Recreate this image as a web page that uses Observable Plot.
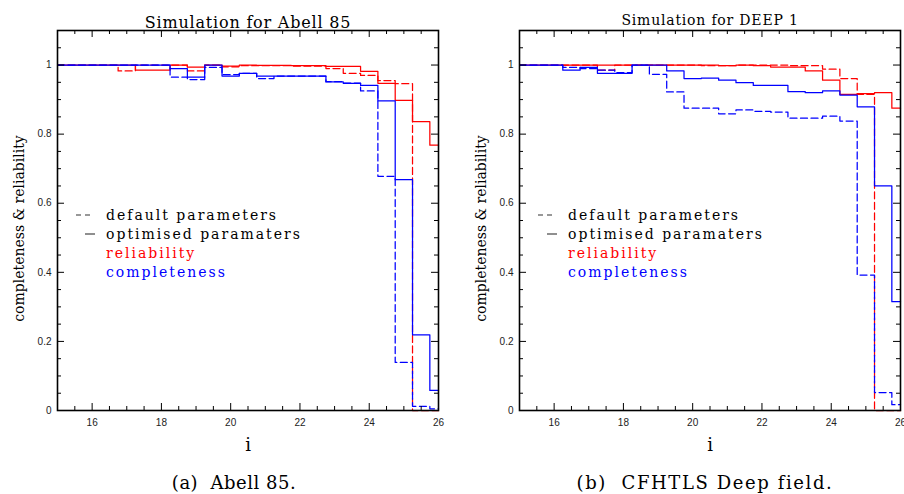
<!DOCTYPE html>
<html><head><meta charset="utf-8">
<script src="https://cdn.jsdelivr.net/npm/d3@7"></script>
<script src="https://cdn.jsdelivr.net/npm/@observablehq/plot@0.6"></script>
<style>
body{margin:0;background:#fff;width:904px;height:494px;overflow:hidden;position:relative;}
.panel{position:absolute;top:0;width:452px;height:462px;}
.legend{position:absolute;font-family:"DejaVu Serif";font-size:14px;letter-spacing:2px;}
.legend .row{height:19px;display:flex;align-items:center;white-space:nowrap;}
.legend svg{width:32px;height:19px;flex:none;}
.caption{position:absolute;top:472px;font-family:"DejaVu Serif";font-size:18px;white-space:nowrap;transform:translateX(-50%);}
</style></head><body>
<div id="p1" class="panel" style="left:0"></div>
<div id="p2" class="panel" style="left:452px"></div>
<div class="caption" style="left:234px;letter-spacing:0.5px">(a)&nbsp; Abell 85.</div>
<div class="caption" style="left:705px;letter-spacing:1.6px">(b)&nbsp; CFHTLS Deep field.</div>
<script>
// magnitude bin centres (bins 0.5 wide)
const bins = [15,15.5,16,16.5,17,17.5,18,18.5,19,19.5,20,20.5,21,21.5,22,22.5,23,23.5,24,24.5,25,25.5,26];
const xTickLabels = [16,18,20,22,24,26];
const yTickLabels = [0,0.2,0.4,0.6,0.8,1];

// Abell 85
const abellRelDef = [1,1,1,1,0.983,1,1,1,0.983,1,0.995,0.998,0.998,0.998,0.997,0.997,0.99,0.976,0.97,0.955,0.946,0,0];
const abellRelOpt = [1,1,1,1,1,0.985,0.985,1,0.994,1,0.997,1,0.999,0.999,0.998,0.998,0.996,0.996,0.982,0.947,0.898,0.836,0.768];
const abellComDef = [1,1,1,1,1,1,1,0.965,0.958,0.993,0.972,0.976,0.961,0.968,0.968,0.968,0.952,0.948,0.925,0.678,0.139,0.012,0.005];
const abellComOpt = [1,1,1,1,1,1,1,0.99,0.965,1,0.968,0.976,0.968,0.968,0.968,0.968,0.951,0.947,0.941,0.896,0.668,0.219,0.058];

// DEEP 1
const deepRelDef = [1,1,1,1,1,0.985,1,1,1,1,1,0.998,0.998,1,1,1,0.998,0.998,0.988,0.961,0.915,0,0];
const deepRelOpt = [1,1,1,1,1,1,1,1,1,1,1,1,0.998,1,0.998,0.994,0.994,0.983,0.956,0.915,0.917,0.92,0.875];
const deepComDef = [1,1,1,0.993,0.99,0.985,0.978,1,0.973,0.922,0.875,0.875,0.859,0.87,0.866,0.864,0.846,0.846,0.852,0.838,0.392,0.052,0.017];
const deepComOpt = [1,1,1,0.985,0.993,0.976,0.976,1,1,0.983,0.961,0.962,0.956,0.949,0.941,0.941,0.923,0.92,0.925,0.913,0.879,0.65,0.315];

const legendItems = [
  {label: "default parameters", color: "#000", sample: "dash"},
  {label: "optimised paramaters", color: "#000", sample: "solid"},
  {label: "reliability", color: "#ff0000", sample: null},
  {label: "completeness", color: "#0000ff", sample: null}
];

const RED = "#ff0000", BLUE = "#0000ff", DASH = "7,3.5";
const FW = 381, FH = 380; // frame size in px

function makePanel(el, cfg) {
  const marks = [];
  const series = [
    {vals: cfg.relDef, stroke: RED, dash: DASH},
    {vals: cfg.relOpt, stroke: RED, dash: null},
    {vals: cfg.comDef, stroke: BLUE, dash: DASH},
    {vals: cfg.comOpt, stroke: BLUE, dash: null}
  ];
  for (const s of series) {
    const rows = bins.map((b, i) => ({m: b, v: s.vals[i]}));
    const o = {x: "m", y: "v", curve: "step", stroke: s.stroke, strokeWidth: 1.25};
    if (s.dash) o.strokeDasharray = s.dash;
    marks.push(Plot.line(rows, o));
  }
  const minorX = d3.range(15, 26.001, 0.5).filter(v => !xTickLabels.includes(v));
  const minorY = d3.range(0, 23, 1).map(k => +(k * 0.05).toFixed(2)).filter(v => v <= 1.1 && !yTickLabels.includes(v));
  const tx = (data, len, side) => Plot.ruleX(data, {x: d => d, stroke: "#000", strokeWidth: 1, [side]: FH - len});
  const ty = (data, len, side) => Plot.ruleY(data, {y: d => d, stroke: "#000", strokeWidth: 1, [side]: FW - len});
  marks.push(
    Plot.frame({stroke: "#000", strokeWidth: 1.6}),
    tx(xTickLabels, 7, "insetTop"), tx(minorX, 4, "insetTop"),
    tx(xTickLabels, 7, "insetBottom"), tx(minorX, 4, "insetBottom"),
    ty(yTickLabels, 7, "insetRight"), ty(minorY, 4, "insetRight"),
    ty(yTickLabels, 7, "insetLeft"), ty(minorY, 4, "insetLeft"),
    Plot.axisX(xTickLabels, {tickSize: 0, tickPadding: 8, fontSize: 10, fontFamily: "Liberation Sans", fill: "#222", tickFormat: d => String(d), label: null}),
    Plot.axisY(yTickLabels, {tickSize: 0, tickPadding: 6, fontSize: 10, fontFamily: "Liberation Sans", fill: "#222", tickFormat: d => String(d), label: null}),
    Plot.text([cfg.title], {text: d => d, frameAnchor: "top", lineAnchor: "bottom", dy: cfg.titleDy, fontSize: cfg.titleSize, fontFamily: "DejaVu Serif", fill: "#000"}),
    Plot.text(["completeness & reliability"], {text: d => d, frameAnchor: "left", textAnchor: "middle", rotate: -90, dx: -37.5, dy: 8, fontSize: 14, fontFamily: "DejaVu Serif", fill: "#000"}),
    Plot.text(["i"], {text: d => d, frameAnchor: "bottom", dy: 40, fontSize: 18, fontFamily: "DejaVu Serif", fill: "#000"})
  );
  const svg = Plot.plot({
    width: 452, height: 462,
    marginTop: 30, marginBottom: 52, marginLeft: cfg.mL, marginRight: cfg.mR,
    x: {domain: [15, 26], label: null},
    y: {domain: [0, 1.1], label: null},
    style: {background: "transparent", overflow: "visible"},
    marks
  });
  svg.querySelectorAll("text").forEach(t => {
    if (t.textContent === cfg.title) t.style.letterSpacing = "0.8px";
  });
  el.appendChild(svg);

  // legend
  const lg = document.createElement("div");
  lg.className = "legend";
  lg.style.left = (cfg.mL + 17) + "px";
  lg.style.top = "205px";
  for (const it of legendItems) {
    const row = document.createElement("div");
    row.className = "row";
    let s = '<svg viewBox="0 0 32 19">';
    if (it.sample === "dash") s += '<line x1="2" x2="16" y1="10" y2="10" stroke="#333" stroke-width="1.1" stroke-dasharray="5,4"/>';
    if (it.sample === "solid") s += '<line x1="11" x2="21" y1="10" y2="10" stroke="#333" stroke-width="1.1"/>';
    s += '</svg>';
    row.innerHTML = s + '<span style="color:' + it.color + '">' + it.label + '</span>';
    lg.appendChild(row);
  }
  el.appendChild(lg);
}

makePanel(document.getElementById("p1"), {title: "Simulation for Abell 85", titleSize: 16, titleDy: -3, relDef: abellRelDef, relOpt: abellRelOpt, comDef: abellComDef, comOpt: abellComOpt, mL: 57, mR: 14});
makePanel(document.getElementById("p2"), {title: "Simulation for DEEP 1", titleSize: 14, titleDy: -6, relDef: deepRelDef, relOpt: deepRelOpt, comDef: deepComDef, comOpt: deepComOpt, mL: 67, mR: 4});
</script>
</body></html>
